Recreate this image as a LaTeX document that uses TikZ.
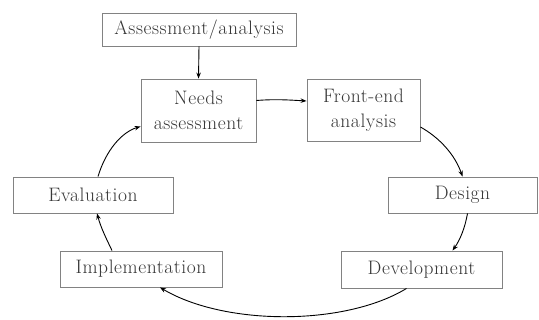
\documentclass[tikz,border=0pt]{standalone}
\usepackage{fontspec}
\setmainfont{Latin Modern Roman}
\usetikzlibrary{arrows.meta}
\definecolor{boxgray}{RGB}{130,130,130}
\definecolor{txtgray}{RGB}{55,55,55}
\begin{document}
\begin{tikzpicture}[x=1pt,y=-1pt,
  box/.style={draw=boxgray, line width=0.9pt, text=txtgray, inner sep=0pt,
    font=\fontsize{19.5}{25}\selectfont\addfontfeatures{LetterSpace=3}, align=center},
  conn/.style={draw=black, line width=0.9pt, -{Stealth[length=6pt,width=4.5pt]}}]
\useasboundingbox (0,0) rectangle (539,320);
\fill[white] (0,0) rectangle (539,320);
\node[box, minimum width=194pt, minimum height=33pt] (top) at (199,29.5) {Assessment/analysis};
\node[box, minimum width=115pt, minimum height=63pt] (needs) at (198.5,110.5) {Needs\\assessment};
\node[box, minimum width=113pt, minimum height=62pt] (front) at (363.5,110) {Front-end\\analysis};
\node[box, minimum width=149pt, minimum height=36pt] (design) at (462.5,195) {Design};
\node[box, minimum width=161pt, minimum height=37pt] (dev) at (421.5,269.5) {Development};
\node[box, minimum width=162pt, minimum height=36pt] (impl) at (141,269) {Implementation};
\node[box, minimum width=160pt, minimum height=36pt] (eval) at (93,195) {Evaluation};

\draw[conn] (top.south) -- (needs.north);
\draw[conn] ([yshift=10pt]needs.east) .. controls (275,99) and (290,100) .. ([yshift=9pt]front.west);
\draw[conn] ([yshift=-17pt]front.east) .. controls (440,138) and (455,155) .. ([xshift=0pt]design.north);
\draw[conn] ([xshift=5pt]design.south) .. controls (465,228) and (460,240) .. ([xshift=31pt]dev.north);
\draw[conn] ([xshift=-15pt]dev.south) .. controls (345,326) and (225,326) .. ([xshift=19pt]impl.south);
\draw[conn] ([xshift=-29pt]impl.north) .. controls (106,238) and (101,228) .. ([xshift=4pt]eval.south);
\draw[conn] ([xshift=5pt]eval.north) .. controls (106,150) and (122,132) .. ([yshift=-16pt]needs.west);
\end{tikzpicture}
\end{document}
